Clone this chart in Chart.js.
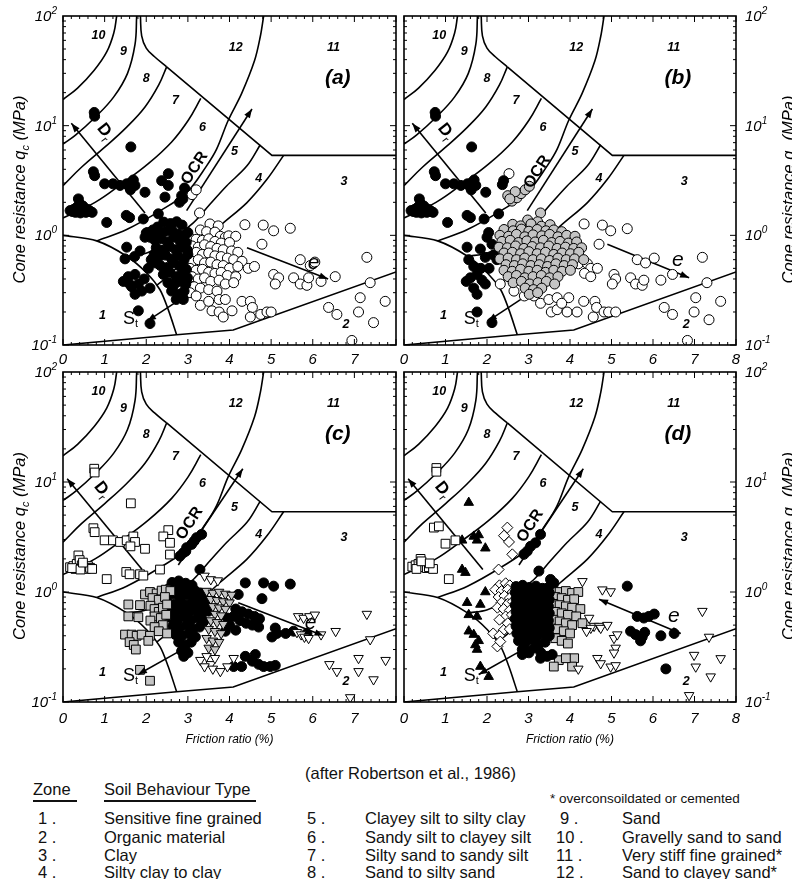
<!DOCTYPE html>
<html><head><meta charset="utf-8">
<script src="https://cdn.jsdelivr.net/npm/chart.js@4.4.0/dist/chart.umd.min.js"></script>
<style>
html,body{margin:0;padding:0;background:#fff;width:792px;height:879px;overflow:hidden;position:relative;font-family:"Liberation Sans",Arial,sans-serif;}
canvas{position:absolute;}
.t{position:absolute;white-space:nowrap;color:#111;font-size:16.5px;line-height:18px;}
.s{font-size:13.5px;}
.u{position:absolute;height:0;border-top:2px solid #111;}
</style></head><body>
<canvas id="ca"></canvas><canvas id="cb"></canvas><canvas id="cc"></canvas><canvas id="cd"></canvas>

<div class="t" style="left:305px;top:764px;">(after Robertson et al., 1986)</div>
<div class="t" style="left:33px;top:780px;">Zone</div>
<div class="t" style="left:104px;top:780px;">Soil Behaviour Type</div>
<div class="u" style="left:33px;top:800px;width:44px"></div>
<div class="u" style="left:104px;top:800px;width:152px"></div>
<div class="t s" style="left:550px;top:790px;">* overconsoildated or cemented</div>

<div class="t" style="left:38px;top:809px;">1 .</div><div class="t" style="left:104px;top:809px;">Sensitive fine grained</div>
<div class="t" style="left:38px;top:828px;">2 .</div><div class="t" style="left:104px;top:828px;">Organic material</div>
<div class="t" style="left:38px;top:846px;">3 .</div><div class="t" style="left:104px;top:846px;">Clay</div>
<div class="t" style="left:38px;top:863px;">4 .</div><div class="t" style="left:104px;top:863px;">Silty clay to clay</div>

<div class="t" style="left:307px;top:809px;">5 .</div><div class="t" style="left:365px;top:809px;">Clayey silt to silty clay</div>
<div class="t" style="left:307px;top:828px;">6 .</div><div class="t" style="left:365px;top:828px;">Sandy silt to clayey silt</div>
<div class="t" style="left:307px;top:846px;">7 .</div><div class="t" style="left:365px;top:846px;">Silty sand to sandy silt</div>
<div class="t" style="left:307px;top:863px;">8 .</div><div class="t" style="left:365px;top:863px;">Sand to silty sand</div>

<div class="t" style="left:560px;top:809px;">9 .</div><div class="t" style="left:622px;top:809px;">Sand</div>
<div class="t" style="left:556px;top:828px;">10 .</div><div class="t" style="left:622px;top:828px;">Gravelly sand to sand</div>
<div class="t" style="left:556px;top:846px;">11 .</div><div class="t" style="left:622px;top:846px;">Very stiff fine grained*</div>
<div class="t" style="left:556px;top:863px;">12 .</div><div class="t" style="left:622px;top:863px;">Sand to clayey sand*</div>

<script>
// ---------------- axis values ----------------
const xTickValues = [0,1,2,3,4,5,6,7,8];
const yDecades = [0.1,1,10,100];

// ---------------- zone boundaries (Rf %, qc MPa) ----------------
const zone10 = [[1.29,100],[1.22,70],[1.05,47],[0.75,32],[0.35,22],[0,17.3]];
const b98 = [[1.77,100],[1.73,55],[1.55,30],[1.22,18.3],[0.78,12],[0.3,8.2],[0,6.8]];
const b87 = [[2.49,34.4],[2.3,23.5],[1.97,14.8],[1.53,9.7],[1.01,6.4],[0.45,4.2],[0,2.84]];
const b76 = [[3.31,17.7],[3.01,11.2],[2.61,7.1],[2.05,4.5],[1.41,2.95],[0.77,2.0],[0,1.44]];
const b65 = [[0.81,0.89],[1.53,1.13],[2.33,1.67],[2.97,2.45],[3.45,4.3],[3.69,6.1],[3.97,11.2],[4.29,19.6],[4.6,39],[4.74,65],[4.82,100]];
const b54 = [[1.53,0.645],[2.01,0.69],[2.57,0.89],[3.13,1.3],[3.53,1.92],[3.93,2.82],[4.42,4.3],[4.74,6.7]];
const b43 = [[2.25,0.35],[2.6,0.45],[3.0,0.65],[3.77,1.22],[4.42,1.99],[4.9,3.24],[5.3,5.36]];
const b12curve = [[1.86,100],[1.89,66],[2.0,51],[2.2,42.5],[2.49,34.4]];
const b12line = [[2.49,34.4],[5.02,5.36],[8,5.36]];
const zone1 = [[0,1.0],[0.81,0.89],[1.53,0.645],[2.01,0.454],[2.33,0.319],[2.53,0.209],[2.73,0.124]];
const zone2 = [[0,0.1],[2.73,0.124],[4.09,0.137],[8,0.464]];

// ---------------- trend arrows ----------------
const arrowsAB = {Dr:[[1.97,1.6],[0.2,10.5]], OCR:[[2.97,1.68],[4.54,14.2]], St:[[2.88,0.27],[2.02,0.165]]};
const eArrowA = [[4.42,0.77],[6.37,0.4]];
const eArrowB = [[4.9,0.83],[6.87,0.41]];
const arrowsCD = {Dr:[[1.9,1.6],[0.1,10.7]], OCR:[[2.77,1.76],[4.32,13.2]], St:[[2.8,0.29],[1.8,0.178]]};
const eArrowC = [[4.21,0.8],[6.26,0.4]];
const eArrowD = [[6.67,0.42],[4.7,0.86]];

// ---------------- data points ----------------
const upperLeft = [[0.75,13.2],[0.76,12.2],[1.63,6.4],[0.73,3.8],[0.76,3.5],[1.0,2.95],[1.2,2.95],[1.37,2.85],[1.53,2.95],[1.69,3.2],[1.73,2.85],[1.62,2.6],[1.97,2.47],[1.52,1.52],[1.6,1.45],[1.05,1.31],[1.93,1.41],[0.17,1.68],[0.25,1.72],[0.33,1.8],[0.37,2.15],[0.4,1.95],[0.45,1.75],[0.5,1.68],[0.55,1.62],[0.6,1.72],[0.65,1.66],[0.3,1.62],[0.22,1.65],[0.42,1.6],[0.48,1.85],[0.7,1.62]];

// panel (a)
const aBlackUpper = [[2.53,3.65],[2.37,3.15],[2.53,2.85],[2.45,2.23],[2.29,1.57],[2.8,2.0],[2.88,2.15],[2.85,2.3],[2.92,2.7]];
const aBlackLower = [[1.53,0.78],[1.85,0.72],[1.49,0.61],[2.0,1.05],[1.97,0.96],[1.72,0.64],[1.57,0.42],[1.73,0.44],[1.65,0.34],[1.73,0.29],[1.89,0.31],[2.09,0.33],[1.45,0.38],[1.95,0.4],[2.05,0.5],[2.12,0.6],[1.6,0.36],[1.81,0.36],[2.89,0.26],[1.81,0.205],[2.09,0.157]];
const aBlackCluster = [[2.42,1.32],[2.58,1.28],[2.73,1.33],[2.86,1.24],[2.27,1.19],[2.03,1.06],[2.16,1.12],[2.31,1.04],[2.47,1.09],[2.62,1.11],[2.77,1.03],[2.92,1.0],[3.0,1.06],[2.21,0.9],[2.36,0.93],[2.52,0.87],[2.66,0.96],[2.81,0.89],[2.96,0.86],[2.09,0.96],[2.24,0.77],[2.41,0.73],[2.56,0.79],[2.71,0.74],[2.86,0.78],[2.99,0.73],[2.31,0.64],[2.46,0.66],[2.61,0.61],[2.76,0.65],[2.91,0.6],[3.0,0.67],[2.19,0.67],[2.34,0.53],[2.51,0.51],[2.66,0.56],[2.81,0.52],[2.96,0.49],[2.22,0.56],[2.41,0.44],[2.56,0.46],[2.71,0.42],[2.86,0.45],[2.99,0.41],[2.52,0.37],[2.66,0.35],[2.81,0.38],[2.95,0.36],[2.61,0.31],[2.76,0.29],[2.91,0.31],[2.72,0.26],[2.88,0.27]];
const aOpen = [[3.1,2.35],[3.2,2.6],[3.28,1.6],[3.53,1.27],[3.73,1.22],[3.3,1.12],[3.45,1.08],[3.65,1.07],[3.78,0.98],[3.9,0.96],[3.98,0.99],[4.15,0.98],[4.37,1.25],[4.81,1.24],[5.06,1.1],[5.46,1.16],[4.78,0.83],
[3.05,0.95],[3.2,0.92],[3.35,0.9],[3.5,0.93],[3.65,0.88],[3.8,0.85],[4.0,0.86],[3.1,0.8],[3.25,0.78],[3.4,0.82],[3.55,0.79],[3.7,0.76],[3.85,0.74],[4.05,0.72],[4.2,0.7],
[3.05,0.68],[3.2,0.7],[3.35,0.67],[3.5,0.69],[3.65,0.65],[3.8,0.64],[3.95,0.62],[4.1,0.6],[4.3,0.58],[3.1,0.58],[3.25,0.6],[3.4,0.56],[3.55,0.57],[3.7,0.54],[3.85,0.53],[4.0,0.5],[4.2,0.52],[4.45,0.5],[4.6,0.52],
[3.05,0.5],[3.2,0.48],[3.35,0.49],[3.5,0.46],[3.65,0.45],[3.8,0.46],[3.95,0.43],[4.15,0.42],[3.1,0.42],[3.25,0.4],[3.4,0.41],[3.55,0.38],[3.75,0.39],[3.9,0.36],[4.1,0.37],[3.0,0.35],[3.15,0.34],[3.3,0.33],[3.5,0.32],[3.7,0.31],[3.05,0.3],[3.2,0.28],
[3.3,0.23],[3.5,0.25],[3.75,0.26],[3.58,0.205],[3.75,0.2],[3.9,0.26],[4.06,0.205],[4.3,0.25],[4.5,0.25],[4.55,0.22],[4.5,0.18],[4.75,0.19],[4.9,0.2],[5.0,0.2],[3.85,0.18],
[5.06,0.44],[5.18,0.41],[5.1,0.36],[5.54,0.41],[5.7,0.36],[5.86,0.35],[5.9,0.41],[6.2,0.38],[6.54,0.42],[5.7,0.6],[5.94,0.53],[6.05,0.57],[7.3,0.63],[7.38,0.37],[7.14,0.27],[7.1,0.2],[7.74,0.25],[7.46,0.16],[6.94,0.11],[6.38,0.22],[6.58,0.19]];

// panel (b)
const bBlack = [[2.4,3.15],[2.37,2.9],[2.28,1.57],[2.04,1.06],[2.0,0.96],[2.12,0.83],[1.52,0.78],[1.84,0.75],[1.56,0.6],[1.68,0.52],[1.96,0.63],[2.16,0.66],[2.24,0.6],[1.6,0.41],[1.76,0.44],[1.88,0.39],[1.68,0.33],[1.76,0.29],[1.96,0.36],[1.5,0.38],[1.85,0.5],[2.05,0.5],[1.76,0.2],[2.12,0.16]];
const bGray = [[2.5,2.3],[2.6,2.05],[2.72,2.2],[2.82,2.4],[2.92,2.6],[3.02,2.8],[2.68,2.5],[2.55,2.15],[3.29,1.6],
[2.98,1.38],[3.22,1.33],[2.62,1.26],[2.81,1.22],[3.06,1.27],[3.31,1.21],[3.52,1.25],[2.41,1.13],[2.63,1.1],[2.83,1.14],[3.01,1.09],[3.21,1.13],[3.42,1.1],[3.61,1.12],[3.8,1.08],
[2.31,1.0],[2.52,0.98],[2.71,1.02],[2.91,0.97],[3.11,1.01],[3.32,0.99],[3.51,1.02],[3.71,0.97],[3.92,1.0],[4.12,0.98],[2.36,0.88],[2.56,0.9],[2.76,0.86],[2.96,0.89],[3.16,0.87],[3.36,0.9],[3.56,0.86],[3.76,0.88],[3.96,0.85],[4.16,0.87],
[2.29,0.78],[2.49,0.77],[2.69,0.8],[2.89,0.76],[3.09,0.79],[3.29,0.77],[3.49,0.8],[3.69,0.76],[3.89,0.78],[4.09,0.76],[4.28,0.77],[2.41,0.69],[2.61,0.7],[2.81,0.68],[3.01,0.71],[3.21,0.68],[3.41,0.7],[3.61,0.67],[3.81,0.69],[4.01,0.68],[4.21,0.7],
[2.31,0.61],[2.51,0.62],[2.71,0.6],[2.91,0.62],[3.11,0.6],[3.31,0.61],[3.51,0.59],[3.71,0.62],[3.91,0.6],[4.11,0.61],[4.33,0.6],[2.46,0.54],[2.66,0.53],[2.86,0.55],[3.06,0.53],[3.26,0.54],[3.46,0.52],[3.66,0.55],[3.86,0.53],[4.06,0.54],
[2.41,0.48],[2.61,0.47],[2.81,0.49],[3.01,0.47],[3.21,0.48],[3.41,0.46],[3.61,0.48],[3.81,0.47],[4.01,0.48],[2.51,0.42],[2.71,0.43],[2.91,0.41],[3.11,0.42],[3.31,0.43],[3.51,0.41],[3.71,0.42],[2.63,0.37],[2.83,0.38],[3.03,0.36],[3.23,0.37],[3.43,0.38],[3.63,0.36],[2.92,0.33],[3.12,0.32],[3.32,0.33],[3.02,0.29],[3.22,0.3]];
const bOpen = [[2.53,3.65],[4.34,1.27],[4.78,1.24],[4.98,1.1],[5.38,1.15],[4.7,0.83],[5.62,0.6],[5.82,0.56],[6.03,0.62],[7.19,0.63],[7.3,0.37],[7.03,0.27],[6.99,0.2],[7.63,0.25],[7.35,0.17],[6.83,0.11],[6.27,0.22],[6.47,0.19],[6.47,0.44],[6.19,0.39],[5.06,0.44],[5.1,0.4],[5.02,0.36],[5.46,0.41],[5.58,0.36],[5.74,0.35],[5.78,0.39],[3.29,0.24],[3.49,0.26],[3.69,0.27],[3.55,0.2],[3.69,0.21],[3.97,0.27],[3.93,0.2],[4.17,0.2],[4.33,0.25],[4.6,0.25],[4.64,0.22],[4.56,0.18],[4.82,0.2],[4.93,0.2],[5.1,0.2],[4.2,0.55],[4.42,0.55],[4.5,0.5],[4.35,0.45],[4.5,0.42],[4.66,0.5],[2.32,0.36],[2.65,0.31],[2.9,0.28],[3.13,0.28],[3.8,0.24]];

// panel (c)
const cSquareUpper = [[2.53,3.65],[2.41,3.2],[2.57,2.8],[2.57,2.19],[2.33,1.6],[1.85,1.45]];
const cSquareGray = [[1.57,0.77],[1.85,0.76],[1.57,0.6],[1.81,0.59],[1.49,0.41],[1.65,0.41],[1.77,0.4],[1.89,0.41],[2.09,0.4],[1.6,0.35],[1.7,0.33],[1.75,0.3],[1.85,0.196],[2.09,0.156],[1.97,0.95],[2.09,1.0],[2.25,0.97],[2.37,1.03],[2.47,1.05],[2.58,1.02],[2.15,0.88],[2.3,0.85],[2.45,0.9],[2.1,0.75],[2.2,0.7],[2.3,0.66],[2.4,0.72],[2.5,0.77],[2.2,0.6],[2.35,0.58],[2.48,0.62],[2.1,0.55],[2.4,0.5],[2.2,0.48],[2.3,0.44],[2.5,0.42],[2.05,0.36]];
const cBlack = [[3.33,3.34],[3.21,3.12],[3.09,2.71],[2.97,2.53],[2.89,2.27],[2.81,2.12],[3.15,2.9],[2.95,2.35],[3.29,1.6],
[2.62,1.22],[2.78,1.26],[2.95,1.2],[3.1,1.15],[2.55,1.08],[2.7,1.1],[2.86,1.05],[3.02,1.07],[3.18,1.02],[3.3,0.98],[2.5,0.93],[2.64,0.96],[2.8,0.9],[2.96,0.94],[3.12,0.88],[3.27,0.91],[3.4,0.86],
[2.52,0.8],[2.67,0.77],[2.83,0.81],[2.99,0.76],[3.15,0.79],[3.31,0.75],[3.45,0.78],[2.56,0.68],[2.71,0.66],[2.87,0.7],[3.03,0.65],[3.19,0.68],[3.35,0.64],[3.5,0.67],[2.6,0.58],[2.75,0.56],[2.91,0.6],[3.07,0.55],[3.23,0.58],[3.38,0.54],
[2.64,0.49],[2.8,0.47],[2.96,0.5],[3.12,0.46],[3.28,0.48],[2.7,0.41],[2.86,0.4],[3.02,0.42],[3.18,0.39],[2.78,0.35],[2.94,0.33],[3.08,0.35],[2.85,0.29],[3.0,0.28],[2.9,0.26],
[4.38,1.21],[4.82,1.21],[5.06,1.13],[5.46,1.18],[4.78,0.87],[4.21,0.95],[4.15,0.7],[4.3,0.66],[4.45,0.63],[4.6,0.6],[4.72,0.57],[4.25,0.55],[4.4,0.52],[4.55,0.5],[4.7,0.48],[4.1,0.6],[3.95,0.58],[4.0,0.5],[3.9,0.44],[4.15,0.45],
[5.1,0.47],[5.14,0.42],[5.54,0.44],[5.86,0.42],[5.02,0.39],[5.35,0.42],[4.38,0.26],[4.29,0.21],[4.62,0.27],[4.7,0.22],[4.82,0.21],[4.98,0.21],[5.1,0.215],[4.1,0.21],[4.55,0.235]];
const cTriGray = [[3.45,1.02],[3.6,0.98],[3.75,1.0],[3.9,0.96],[4.05,0.94],[3.55,0.86],[3.7,0.84],[3.85,0.82],[4.0,0.8],[3.6,0.74],[3.75,0.72],[3.9,0.7],[3.65,0.63],[3.8,0.61],[3.55,0.55],[3.7,0.53],[3.85,0.51],[3.5,0.46],[3.65,0.44],[3.8,0.42],[3.45,0.38],[3.6,0.36],[3.75,0.35],[3.5,0.31],[3.65,0.3]];
const cTri = [[3.4,1.4],[3.55,1.3],[3.72,1.27],
[3.3,0.24],[3.45,0.26],[3.55,0.22],[3.65,0.25],[3.6,0.2],[3.78,0.19],[3.95,0.21],[4.1,0.25],[3.4,0.21],
[5.65,0.6],[5.78,0.58],[5.92,0.6],[6.05,0.62],[5.62,0.43],[5.72,0.41],[5.8,0.39],[5.9,0.38],[6.2,0.41],[6.55,0.44],[7.3,0.63],[7.38,0.37],[6.4,0.22],[6.58,0.19],[7.1,0.25],[7.1,0.19],[7.46,0.16],[7.75,0.24],[6.9,0.11]];

// panel (d)
const dSquare = [[0.78,13.4],[0.78,12.4],[0.72,3.85],[0.84,3.95],[1.0,2.75],[1.24,2.95],[1.08,1.31],[0.2,1.7],[0.28,1.75],[0.35,1.8],[0.4,2.0],[0.45,1.72],[0.5,1.68],[0.55,1.65],[0.6,1.68],[0.7,1.62],[0.3,1.62],[0.42,1.9],[0.62,1.82]];
const dTriUp = [[1.56,6.5],[1.4,2.95],[1.68,3.2],[1.76,2.95],[1.8,3.3],[1.96,2.5],[1.4,1.6],[1.48,1.5],[1.96,1.0],[1.52,0.8],[1.84,0.77],[1.56,0.62],[1.76,0.6],[1.56,0.44],[1.68,0.41],[1.8,0.36],[1.72,0.33],[1.76,0.3],[1.84,0.21],[2.04,0.17]];
const dDiamond = [[2.41,3.25],[2.53,2.85],[2.61,2.2],[2.49,3.85],[2.28,1.6],[2.3,1.15],[2.45,1.2],[2.55,1.15],[2.2,1.05],[2.35,1.02],[2.5,1.05],[2.62,1.0],[2.28,0.9],[2.42,0.92],[2.55,0.88],[2.35,0.8],[2.5,0.78],[2.62,0.82],[2.25,0.72],[2.4,0.7],[2.55,0.68],[2.45,0.6],[2.6,0.62],[2.3,0.56],[2.5,0.52],[2.4,0.45],[2.55,0.46],[2.15,0.42],[2.3,0.4],[2.25,0.32],[2.32,0.354]];
const dBlack = [[3.29,3.34],[3.17,2.8],[3.05,2.6],[2.97,2.35],[2.89,2.2],[3.25,1.55],[3.53,1.3],[3.61,1.21],
[2.7,1.12],[2.86,1.15],[3.02,1.1],[3.18,1.13],[3.34,1.08],[3.48,1.1],[2.68,0.99],[2.84,1.01],[3.0,0.97],[3.16,1.0],[3.32,0.96],[3.5,0.98],[2.7,0.87],[2.86,0.85],[3.02,0.88],[3.18,0.84],[3.34,0.87],[3.5,0.85],
[2.68,0.76],[2.84,0.74],[3.0,0.77],[3.16,0.73],[3.32,0.76],[3.48,0.74],[2.7,0.66],[2.86,0.64],[3.02,0.67],[3.18,0.63],[3.34,0.66],[3.5,0.64],[2.68,0.57],[2.84,0.55],[3.0,0.58],[3.16,0.54],[3.32,0.57],[3.48,0.55],
[2.7,0.49],[2.86,0.47],[3.02,0.5],[3.18,0.46],[3.34,0.49],[3.5,0.47],[2.72,0.42],[2.88,0.4],[3.04,0.43],[3.2,0.39],[3.36,0.42],[3.5,0.4],[2.76,0.36],[2.92,0.34],[3.08,0.37],[3.24,0.33],[3.4,0.35],
[2.85,0.3],[3.0,0.29],[3.15,0.31],[3.3,0.28],[2.85,0.27],[3.01,0.28],[3.29,0.25],[3.45,0.26],[3.57,0.27],
[5.38,1.13],[5.62,0.6],[5.78,0.58],[5.9,0.6],[6.03,0.63],[5.46,0.44],[5.58,0.41],[5.74,0.39],[5.8,0.43],[6.19,0.4],[6.51,0.42],[6.31,0.2],[5.7,0.36]];
const dSquareGray = [[3.6,1.05],[3.75,1.0],[3.9,1.02],[4.05,0.98],[4.2,1.0],[3.65,0.9],[3.8,0.88],[3.95,0.85],[4.1,0.86],[3.6,0.78],[3.75,0.76],[3.9,0.74],[4.05,0.72],[4.25,0.7],[3.65,0.66],[3.8,0.64],[3.95,0.62],[4.15,0.6],[3.6,0.56],[3.75,0.54],[3.9,0.52],[4.05,0.5],[4.3,0.52],[3.7,0.46],[3.85,0.44],[4.0,0.42],[3.65,0.38],[3.8,0.36],[3.95,0.34],[3.73,0.24],[3.61,0.21],[4.1,0.25],[4.05,0.21],[3.9,0.25]];
const dTriDown = [[4.3,1.25],[4.78,1.05],[4.98,1.01],[7.19,0.67],[7.35,0.39],[6.99,0.267],[7.03,0.209],[7.39,0.17],[7.63,0.249],[6.87,0.115],[4.46,0.58],[4.58,0.49],[4.7,0.49],[4.5,0.47],[4.74,0.47],[5.06,0.38],[5.14,0.41],[5.1,0.31],[5.06,0.28],[4.66,0.25],[4.74,0.224],[4.98,0.209],[5.1,0.215],[4.2,0.2],[4.9,0.5],[4.4,0.44]];

// ---------------- drawing helpers ----------------
const FF = "'Liberation Sans', Arial, sans-serif";
const toXY = a => a.map(p => ({x:p[0], y:p[1]}));
const supDigits = v => String(Math.round(Math.log10(v)));

function drawParts(ctx, parts, x, y, rot, align){
  ctx.save(); ctx.translate(x,y); ctx.rotate(rot||0);
  let w=0; parts.forEach(p=>{ctx.font=p.f; p.w=ctx.measureText(p.t).width; w+=p.w;});
  let cx = align==='left'?0:(align==='right'?-w:-w/2);
  ctx.textBaseline='alphabetic'; ctx.textAlign='left';
  parts.forEach(p=>{ctx.font=p.f; ctx.fillText(p.t, cx, p.dy||0); cx+=p.w;});
  ctx.restore();
}
function head(ctx,x1,y1,x2,y2){
  const a=Math.atan2(y2-y1,x2-x1), L=9, H=3.3;
  ctx.beginPath(); ctx.moveTo(x2,y2);
  ctx.lineTo(x2-L*Math.cos(a)+H*Math.sin(a), y2-L*Math.sin(a)-H*Math.cos(a));
  ctx.lineTo(x2-L*Math.cos(a)-H*Math.sin(a), y2-L*Math.sin(a)+H*Math.cos(a));
  ctx.closePath(); ctx.fill();
}

const zoneLabels = [['10',0.85,67],['9',1.45,47],['8',2.0,27],['7',2.7,17],['6',3.35,9.6],['5',4.12,5.8],['4',4.7,3.3],['3',6.75,3.1],['12',4.15,52],['11',6.5,52],['1',0.95,0.185],['2',6.8,0.155]];

const panelPlugin = {
  id:'panel',
  afterDatasetsDraw(chart){
    const P = chart.options.plugins.panel;
    const {ctx, chartArea:ca} = chart; const X=chart.scales.x, Y=chart.scales.y;
    const px=v=>X.getPixelForValue(v), py=v=>Y.getPixelForValue(v);
    ctx.save();
    ctx.fillStyle='#000'; ctx.strokeStyle='#000';
    chart.data.datasets.forEach((ds,i)=>{
      if(!ds.arrow) return;
      const pts = chart.getDatasetMeta(i).data; const n=pts.length;
      head(ctx, pts[n-2].x, pts[n-2].y, pts[n-1].x, pts[n-1].y);
      if(ds.arrow==='both') head(ctx, pts[1].x, pts[1].y, pts[0].x, pts[0].y);
    });
    ctx.lineWidth=1.6; ctx.strokeRect(ca.left, ca.top, ca.right-ca.left, ca.bottom-ca.top);
    ctx.lineWidth=1; ctx.beginPath();
    for(let i=0;i<=40;i++){ const v=i*0.2, x=px(v), L=(i%5===0)?6:3;
      ctx.moveTo(x,ca.bottom); ctx.lineTo(x,ca.bottom-L); ctx.moveTo(x,ca.top); ctx.lineTo(x,ca.top+L); }
    [0.1,1,10].forEach(d=>{ for(let m=1;m<=9;m++){ const y=py(d*m), L=(m===1)?6:3;
      ctx.moveTo(ca.left,y); ctx.lineTo(ca.left+L,y); ctx.moveTo(ca.right,y); ctx.lineTo(ca.right-L,y);} });
    ctx.stroke();
    ctx.font="italic 15px "+FF; ctx.textAlign='center'; ctx.textBaseline='middle';
    xTickValues.forEach(v=>{ if(P.hide8 && v===8) return; ctx.fillText(String(v), px(v), ca.bottom+(P.xTitle?17:15)); });
    yDecades.forEach(v=>{
      const parts=[{t:'10',f:"italic 15px "+FF},{t:supDigits(v),f:"italic 10px "+FF,dy:-7}];
      if(P.side==='left') drawParts(ctx, parts, ca.left-6, py(v)+5, 0, 'right');
      else drawParts(ctx, parts, ca.right+9, py(v)+5, 0, 'left');
    });
    const tparts=[{t:'Cone resistance q',f:"italic 16.5px "+FF},{t:'c',f:"italic 11px "+FF,dy:4},{t:' (MPa)',f:"italic 16.5px "+FF}];
    const cy=(ca.top+ca.bottom)/2+9;
    if(P.side==='left') drawParts(ctx,tparts,ca.left-38,cy,-Math.PI/2,'center');
    else drawParts(ctx,tparts,ca.right+58,cy,-Math.PI/2,'center');
    if(P.xTitle){ ctx.font="italic 12px "+FF; ctx.textAlign='center'; ctx.textBaseline='middle';
      ctx.fillText('Friction ratio (%)',(ca.left+ca.right)/2, ca.bottom+38); }
    ctx.font="bold italic 12.5px "+FF; ctx.textAlign='center'; ctx.textBaseline='middle';
    zoneLabels.forEach(z=>ctx.fillText(z[0], px(z[1]), py(z[2])));
    ctx.font="bold italic 21px "+FF; ctx.fillText(P.letter, px(6.6), py(27));
    drawParts(ctx,[{t:'D',f:"bold 17px "+FF},{t:'r',f:"11px "+FF,dy:4}], px(P.dr[0]), py(P.dr[1]), 52*Math.PI/180,'center');
    drawParts(ctx,[{t:'OCR',f:"bold 16px "+FF}], px(P.ocr[0]), py(P.ocr[1]), -57*Math.PI/180,'center');
    drawParts(ctx,[{t:'S',f:"18px "+FF},{t:'t',f:"11px "+FF,dy:3}], px(1.62), py(0.155), 0,'center');
    drawParts(ctx,[{t:'e',f:"italic 21px "+FF}], px(P.e[0]), py(P.e[1])+6, 0,'center');
    ctx.restore();
  }
};

function lineDS(arr, tension){ return {data:toXY(arr), showLine:true, borderColor:'#000', borderWidth:1.6, pointRadius:0, tension:tension, fill:false, order:5}; }
function arrowDS(arr, kind){ return {data:toXY(arr), showLine:true, borderColor:'#000', borderWidth:1.6, pointRadius:0, tension:0, fill:false, order:3, arrow:kind}; }
function ptsDS(arr, style, fill, r, rot, ord){ return {data:toXY(arr), showLine:false, pointStyle:style, pointRadius:r, pointRotation:rot||0, backgroundColor:fill, borderColor:'#000', borderWidth:1, order:ord||1}; }

function boundaries(){
  return [lineDS(zone10,0.4), lineDS(b98,0.4), lineDS(b87,0.4), lineDS(b76,0.4), lineDS(b65,0.35), lineDS(b54,0.35), lineDS(b43,0.35),
          lineDS(b12curve,0.4), lineDS(b12line,0), lineDS(zone1,0.3), lineDS(zone2,0)];
}
function arrowSet(A, eArr, eKind){ return [arrowDS(A.Dr,'end'), arrowDS(A.OCR,'end'), arrowDS(A.St,'end'), arrowDS(eArr,eKind)]; }

function makeChart(id, rect, datasets, opts){
  const PL=63, PR=60, PT=16, PB=52;
  const cv=document.getElementById(id);
  const W=(rect[2]-rect[0])+PL+PR, H=(rect[3]-rect[1])+PT+PB;
  cv.width=W; cv.height=H; cv.style.width=W+'px'; cv.style.height=H+'px';
  cv.style.left=(rect[0]-PL)+'px'; cv.style.top=(rect[1]-PT)+'px';
  new Chart(cv, {type:'scatter', data:{datasets}, plugins:[panelPlugin], options:{
    responsive:false, animation:false, devicePixelRatio:1,
    layout:{padding:{left:PL,right:PR,top:PT,bottom:PB}},
    scales:{x:{type:'linear',min:0,max:8,display:false}, y:{type:'logarithmic',min:0.1,max:100,display:false}},
    plugins:{legend:{display:false}, tooltip:{enabled:false}, panel:opts}
  }});
}

const GRAY='#c4c4c4';
makeChart('ca',[63,16,396,345],[
  ...boundaries(), ...arrowSet(arrowsAB,eArrowA,'end'),
  ptsDS(aOpen,'circle','#fff',5,0,2),
  ptsDS(upperLeft,'circle','#000',5), ptsDS(aBlackUpper,'circle','#000',5), ptsDS(aBlackLower,'circle','#000',5), ptsDS(aBlackCluster,'circle','#000',5)
],{side:'left',hide8:true,letter:'(a)',dr:[0.92,8.3],ocr:[3.25,3.9],e:[6.02,0.56],xTitle:false});

makeChart('cb',[404,16,736,345],[
  ...boundaries(), ...arrowSet(arrowsAB,eArrowB,'end'),
  ptsDS(bOpen,'circle','#fff',5,0,2), ptsDS(bGray,'circle',GRAY,5,0,1),
  ptsDS(upperLeft,'circle','#000',5), ptsDS(bBlack,'circle','#000',5)
],{side:'right',hide8:false,letter:'(b)',dr:[0.92,8.3],ocr:[3.3,3.6],e:[6.6,0.6],xTitle:false});

makeChart('cc',[63,372,396,702],[
  ...boundaries(), ...arrowSet(arrowsCD,eArrowC,'end'),
  ptsDS(cTri,'triangle','#fff',5.5,180,2), ptsDS(cTriGray,'triangle',GRAY,5.5,180,1),
  ptsDS(cBlack,'circle','#000',5,0,2),
  ptsDS(upperLeft,'rect','#fff',6.2), ptsDS(cSquareUpper,'rect','#fff',6.2), ptsDS(cSquareGray,'rect',GRAY,6.2)
],{side:'left',hide8:true,letter:'(c)',dr:[0.85,8.0],ocr:[3.13,4.0],e:[5.95,0.52],xTitle:true});

makeChart('cd',[404,372,736,702],[
  ...boundaries(), ...arrowSet(arrowsCD,eArrowD,'both'),
  ptsDS(dTriDown,'triangle','#fff',5.5,180,2), ptsDS(dSquareGray,'rect',GRAY,6.2,0,2),
  ptsDS(dBlack,'circle','#000',5,0,1), ptsDS(dDiamond,'rectRot','#fff',5.5,0,1),
  ptsDS(dSquare,'rect','#fff',6.2), ptsDS(dTriUp,'triangle','#000',5.5)
],{side:'right',hide8:false,letter:'(d)',dr:[0.85,8.0],ocr:[3.13,3.8],e:[6.5,0.6],xTitle:true});
</script>
</body></html>
